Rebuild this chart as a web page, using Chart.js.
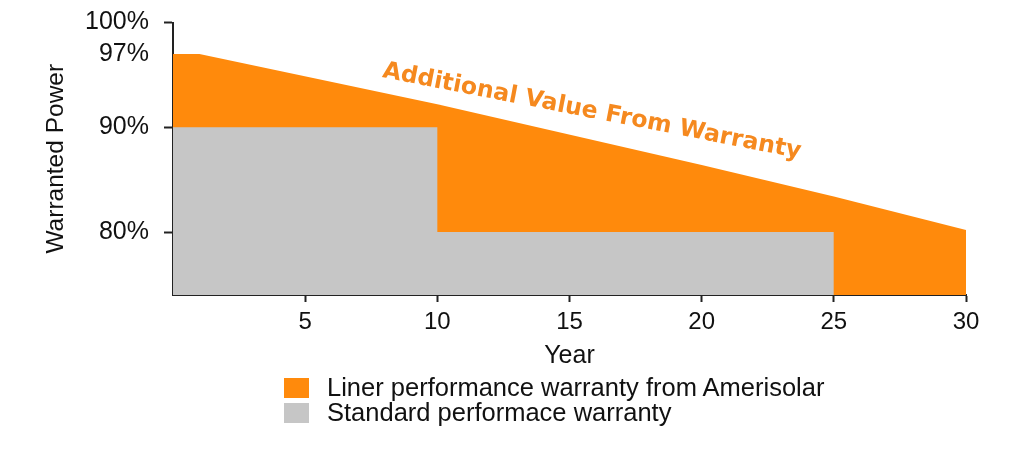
<!DOCTYPE html>
<html>
<head>
<meta charset="utf-8">
<script src="https://cdn.jsdelivr.net/npm/chart.js@4.4.1/dist/chart.umd.min.js"></script>
<style>
    body { margin: 0; background: #fff; }
    #wrap { position: relative; width: 1023px; height: 457px; }
    #legend { position: absolute; left: 284px; top: 375px; font-family: "Liberation Sans", Arial, sans-serif; font-size: 25.5px; color: #111; }
    .item { display: flex; align-items: center; height: 25px; }
    .box { width: 25px; height: 20px; margin-right: 18px; }
</style>
</head>
<body>
<div id="wrap">
    <canvas id="myChart" width="1023" height="457"></canvas>
    <div id="legend"></div>
</div>
<script>
// data
const years = [0, 1, 10, 20, 25, 30];
const linearWarranty = [97, 97, 92.2, 86.4, 83.4, 80.2];
const stdYears = [0, 10, 10, 25];
const stdWarranty = [90, 90, 80, 80];
const xTicks = [5, 10, 15, 20, 25, 30];
const yTicks = [80, 90, 97, 100];
const labels = ['Liner performance warranty from Amerisolar', 'Standard performace warranty'];
const noteText = 'Additional Value From Warranty';

const orange = '#ff8a0c';
const grey = '#c6c6c6';
const font = '"Liberation Sans", Arial, sans-serif';

// text along the orange line
const notePlugin = {
    id: 'note',
    afterDatasetsDraw(chart) {
        const c = chart.ctx, xs = chart.scales.x, ys = chart.scales.y;
        c.save();
        c.translate(xs.getPixelForValue(7.9), ys.getPixelForValue(94.8));
        c.rotate(11 * Math.PI / 180);
        c.font = 'bold 21px "DejaVu Sans"';
        // fit to the length seen in the picture
        const w = c.measureText(noteText).width;
        c.font = 'bold ' + (21 * 425 / w).toFixed(1) + 'px "DejaVu Sans"';
        c.fillStyle = '#f5891f';
        c.textBaseline = 'alphabetic';
        c.fillText(noteText, 0, 0);
        c.restore();
    }
};

const ctx = document.getElementById('myChart');
new Chart(ctx, {
    type: 'line',
    data: {
        datasets: [{
            label: labels[0],
            data: years.map((x, i) => ({ x: x, y: linearWarranty[i] })),
            backgroundColor: orange,
            borderWidth: 0,
            pointRadius: 0,
            fill: 'start',
            order: 1
        }, {
            label: labels[1],
            data: stdYears.map((x, i) => ({ x: x, y: stdWarranty[i] })),
            backgroundColor: grey,
            borderWidth: 0,
            pointRadius: 0,
            fill: 'start',
            order: 0
        }]
    },
    options: {
        responsive: false,
        animation: false,
        layout: { padding: { top: 3, right: 57, bottom: 84, left: 0 } },
        plugins: { legend: { display: false }, tooltip: { enabled: false } },
        scales: {
            x: {
                type: 'linear', min: 0, max: 30,
                afterBuildTicks: s => { s.ticks = xTicks.map(v => ({ value: v })); },
                grid: { display: true, drawOnChartArea: false, drawTicks: true, tickLength: 7, tickColor: '#222', tickWidth: 2 },
                border: { color: '#222', width: 2 },
                ticks: { color: '#111', font: { family: font, size: 24, lineHeight: 1 }, padding: 8 },
                title: { display: true, text: 'Year', color: '#111', font: { family: font, size: 25, lineHeight: 1 }, padding: { top: 2 } }
            },
            y: {
                min: 74, max: 100,
                afterBuildTicks: s => { s.ticks = yTicks.map(v => ({ value: v })); },
                afterFit: s => { s.width = 173; },
                grid: { display: true, drawOnChartArea: false, drawTicks: true, tickLength: 9, tickWidth: 2, tickColor: c => c.tick && c.tick.value === 97 ? 'rgba(0,0,0,0)' : '#222' },
                border: { color: '#222', width: 2 },
                ticks: { color: '#111', font: { family: font, size: 25, lineHeight: 0.6 }, padding: 15, callback: v => v + '%' },
                title: { display: true, text: 'Warranted Power', color: '#111', font: { family: font, size: 24.5 }, padding: { top: 42, bottom: 0 } }
            }
        }
    },
    plugins: [notePlugin]
});

// legend
const legend = document.getElementById('legend');
[orange, grey].forEach((col, i) => {
    const item = document.createElement('div');
    item.className = 'item';
    item.innerHTML = `<span class="box" style="background:${col}"></span><span>${labels[i]}</span>`;
    legend.appendChild(item);
});
</script>
</body>
</html>
